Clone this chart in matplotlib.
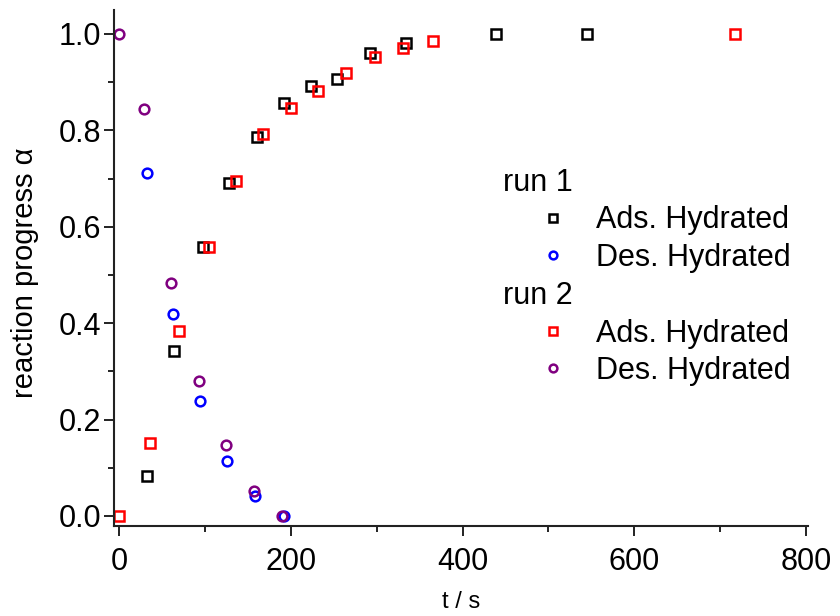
import matplotlib
matplotlib.use("Agg")
import matplotlib.pyplot as plt
from matplotlib.ticker import MultipleLocator, FormatStrFormatter

# run 1 adsorption (hydrated)
ads1_t = [32, 64, 98, 128, 160, 192, 224, 254, 292, 334, 439, 545]
ads1_a = [0.082, 0.342, 0.558, 0.690, 0.786, 0.857, 0.891, 0.907, 0.960, 0.981, 0.999, 1.0]
# run 1 desorption (hydrated)
des1_t = [32, 63, 94, 126, 158, 192]
des1_a = [0.712, 0.419, 0.239, 0.113, 0.041, 0.0]
# run 2 adsorption (hydrated)
ads2_t = [0, 36, 70, 105, 136, 167, 200, 232, 264, 298, 330, 365, 717]
ads2_a = [0.0, 0.152, 0.384, 0.558, 0.695, 0.793, 0.846, 0.882, 0.920, 0.952, 0.970, 0.986, 1.0]
# run 2 desorption (hydrated)
des2_t = [0, 29, 60, 93, 125, 157, 190]
des2_a = [1.0, 0.844, 0.484, 0.280, 0.147, 0.052, 0.0]

plt.rcParams['font.family'] = ['Liberation Sans', 'DejaVu Sans']

fig = plt.figure(figsize=(8.4, 6.16), dpi=100)
ax = fig.add_axes([0.1357, 0.146, 0.826, 0.838])

sq_ms = 6.5
ci_ms = 7
mew = 1.8
h1, = ax.plot(ads1_t, ads1_a, ls='none', marker='s', ms=sq_ms, mfc='none', mec='black', mew=mew, label='Ads. Hydrated')
h2, = ax.plot(des1_t, des1_a, ls='none', marker='o', ms=ci_ms, mfc='none', mec='#0000ff', mew=mew, label='Des. Hydrated')
h3, = ax.plot(ads2_t, ads2_a, ls='none', marker='s', ms=sq_ms, mfc='none', mec='#ff0000', mew=mew, label='Ads. Hydrated')
h4, = ax.plot(des2_t, des2_a, ls='none', marker='o', ms=ci_ms, mfc='none', mec='#800080', mew=mew, label='Des. Hydrated')

ax.set_xlim(-6, 802)
ax.set_ylim(-0.021, 1.05)
ax.xaxis.set_major_locator(MultipleLocator(200))
ax.xaxis.set_minor_locator(MultipleLocator(100))
ax.yaxis.set_major_locator(MultipleLocator(0.2))
ax.yaxis.set_minor_locator(MultipleLocator(0.1))
ax.yaxis.set_major_formatter(FormatStrFormatter('%.1f'))

for s in ['top', 'right']:
    ax.spines[s].set_visible(False)
for s in ['left', 'bottom']:
    ax.spines[s].set_linewidth(1.5)
    ax.spines[s].set_color('#222222')

ax.tick_params(which='major', direction='out', length=7, width=1.4, color='#222222', labelsize=22, pad=2)
ax.tick_params(which='minor', direction='out', length=4.5, width=1.4, color='#222222')
ax.tick_params(axis='x', which='major', pad=8)

ax.set_xlabel('t / s', fontsize=17)
ax.xaxis.set_label_coords(0.5, -0.125)
ax.set_ylabel('reaction progress \u03b1', fontsize=21)
ax.yaxis.set_label_coords(-0.108, 0.49)

leg_kw = dict(frameon=False, fontsize=22, title_fontsize=22, alignment='left',
              handlelength=3.27, handletextpad=-0.23, markerscale=0.8,
              labelspacing=0.25, borderpad=0, borderaxespad=0)
leg1 = ax.legend(handles=[h1, h2], title='run 1', loc='upper left',
                 bbox_to_anchor=(0.5605, 0.694), **leg_kw)
ax.add_artist(leg1)
leg2 = ax.legend(handles=[h3, h4], title='run 2', loc='upper left',
                 bbox_to_anchor=(0.5605, 0.475), **leg_kw)

fig.savefig('out.png', dpi=100)
